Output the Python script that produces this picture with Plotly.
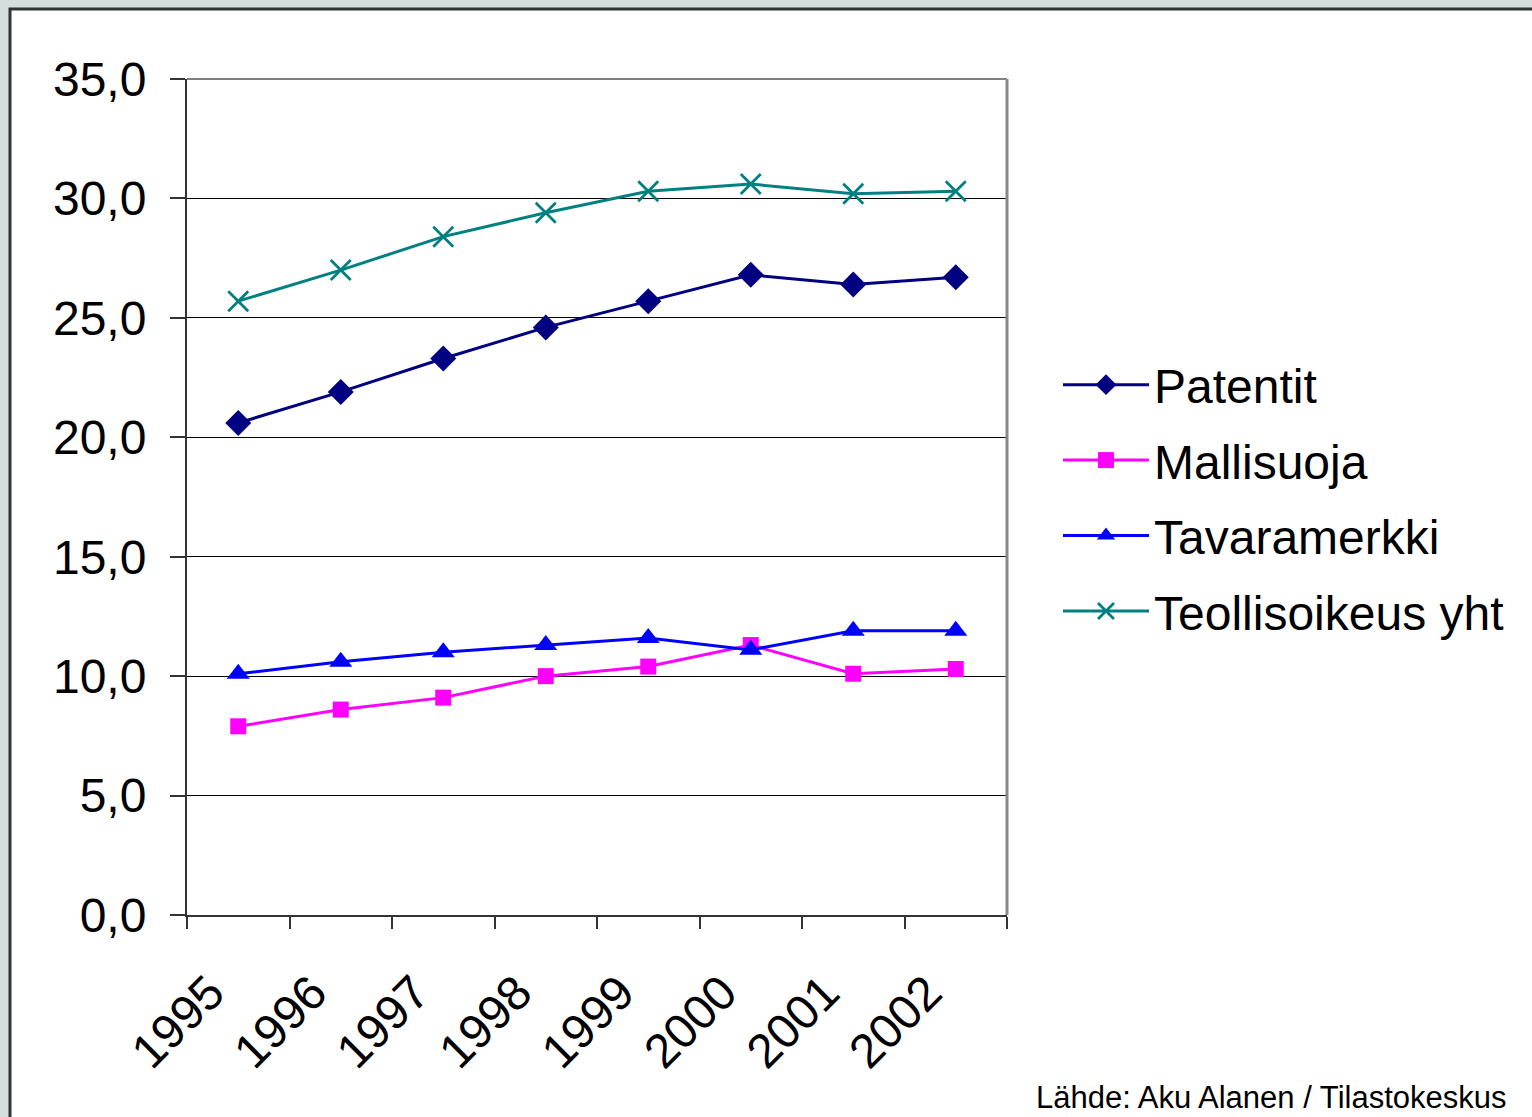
import plotly.graph_objects as go

years = ["1995", "1996", "1997", "1998", "1999", "2000", "2001", "2002"]
patentit = [20.6, 21.9, 23.3, 24.6, 25.7, 26.8, 26.4, 26.7]
mallisuoja = [7.9, 8.6, 9.1, 10.0, 10.4, 11.3, 10.1, 10.3]
tavaramerkki = [10.1, 10.6, 11.0, 11.3, 11.6, 11.1, 11.9, 11.9]
teollisoikeus = [25.7, 27.0, 28.4, 29.4, 30.3, 30.6, 30.2, 30.3]

y_ticks = [0, 5, 10, 15, 20, 25, 30, 35]
y_labels = ["0,0", "5,0", "10,0", "15,0", "20,0", "25,0", "30,0", "35,0"]

W, H = 1532, 1117
L, R, T, B = 187, 1007, 79, 915

fig = go.Figure()
series = [
    ("Patentit", patentit, "#000080", dict(symbol="diamond", size=20)),
    ("Mallisuoja", mallisuoja, "#FF00FF", dict(symbol="square", size=16)),
    ("Tavaramerkki", tavaramerkki, "#0000FF", dict(symbol="triangle-up", size=20)),
    ("Teollisoikeus yht", teollisoikeus, "#008080",
     dict(symbol="x-thin-open", size=20, line=dict(width=2.8, color="#008080"))),
]
for i, (name, vals, color, mk) in enumerate(series):
    marker = dict(color=color, **mk)
    fig.add_trace(go.Scatter(
        x=years, y=vals, name=name, mode="lines+markers",
        line=dict(color=color, width=3), marker=marker,
        legendgroup=str(i),
    ))

def px_x(px):
    return (px - L) / (R - L)

def px_y(py):
    return (B - py) / (B - T)

fig.update_layout(
    width=W, height=H,
    margin=dict(l=L, r=W - R, t=T, b=H - B, pad=0),
    paper_bgcolor="#d6dddd",
    plot_bgcolor="white",
    font=dict(family="Liberation Sans, Arial, sans-serif", color="black"),
    showlegend=True,
    legend=dict(
        x=px_x(1058), xanchor="left", y=px_y(498), yanchor="middle",
        font=dict(size=48, color="black"),
        bgcolor="rgba(0,0,0,0)",
        traceorder="grouped", tracegroupgap=10,
        itemwidth=86,
    ),
    xaxis=dict(
        type="category", tickson="boundaries",
        ticks="outside", ticklen=12, tickcolor="#333", tickwidth=1.5,
        showline=True, linecolor="#333", linewidth=2,
        showgrid=False, tickangle=-45,
        tickfont=dict(size=48),
        ticklabelstandoff=28, ticklabelshift=-28,
        range=[-0.5, 7.5],
    ),
    yaxis=dict(
        range=[0, 35], tickvals=y_ticks, ticktext=y_labels,
        ticks="outside", ticklen=15, tickcolor="#333", tickwidth=1.5,
        showline=True, linecolor="#333", linewidth=2,
        showgrid=True, gridcolor="black", gridwidth=1,
        zeroline=False,
        tickfont=dict(size=48),
        ticklabelstandoff=14,
    ),
    shapes=[
        dict(type="rect", xref="paper", yref="paper",
             x0=px_x(10), x1=px_x(1540), y0=px_y(1125), y1=px_y(9),
             fillcolor="white", line=dict(color="#333", width=3), layer="below"),
        dict(type="line", xref="paper", yref="paper",
             x0=0, x1=1, y0=1, y1=1, line=dict(color="#808080", width=2)),
        dict(type="line", xref="paper", yref="paper",
             x0=1, x1=1, y0=0, y1=1, line=dict(color="#8a8a8a", width=3)),
    ],
    annotations=[
        dict(text="Lähde: Aku Alanen / Tilastokeskus", xref="paper", yref="paper",
             x=px_x(1508), y=px_y(1117), xanchor="right", yanchor="bottom",
             showarrow=False, font=dict(size=31, color="black")),
    ],
)

fig.write_html(
    "out.html",
    config={"displayModeBar": False},
    post_script="document.body.style.margin='0';document.body.style.overflow='hidden';",
)
